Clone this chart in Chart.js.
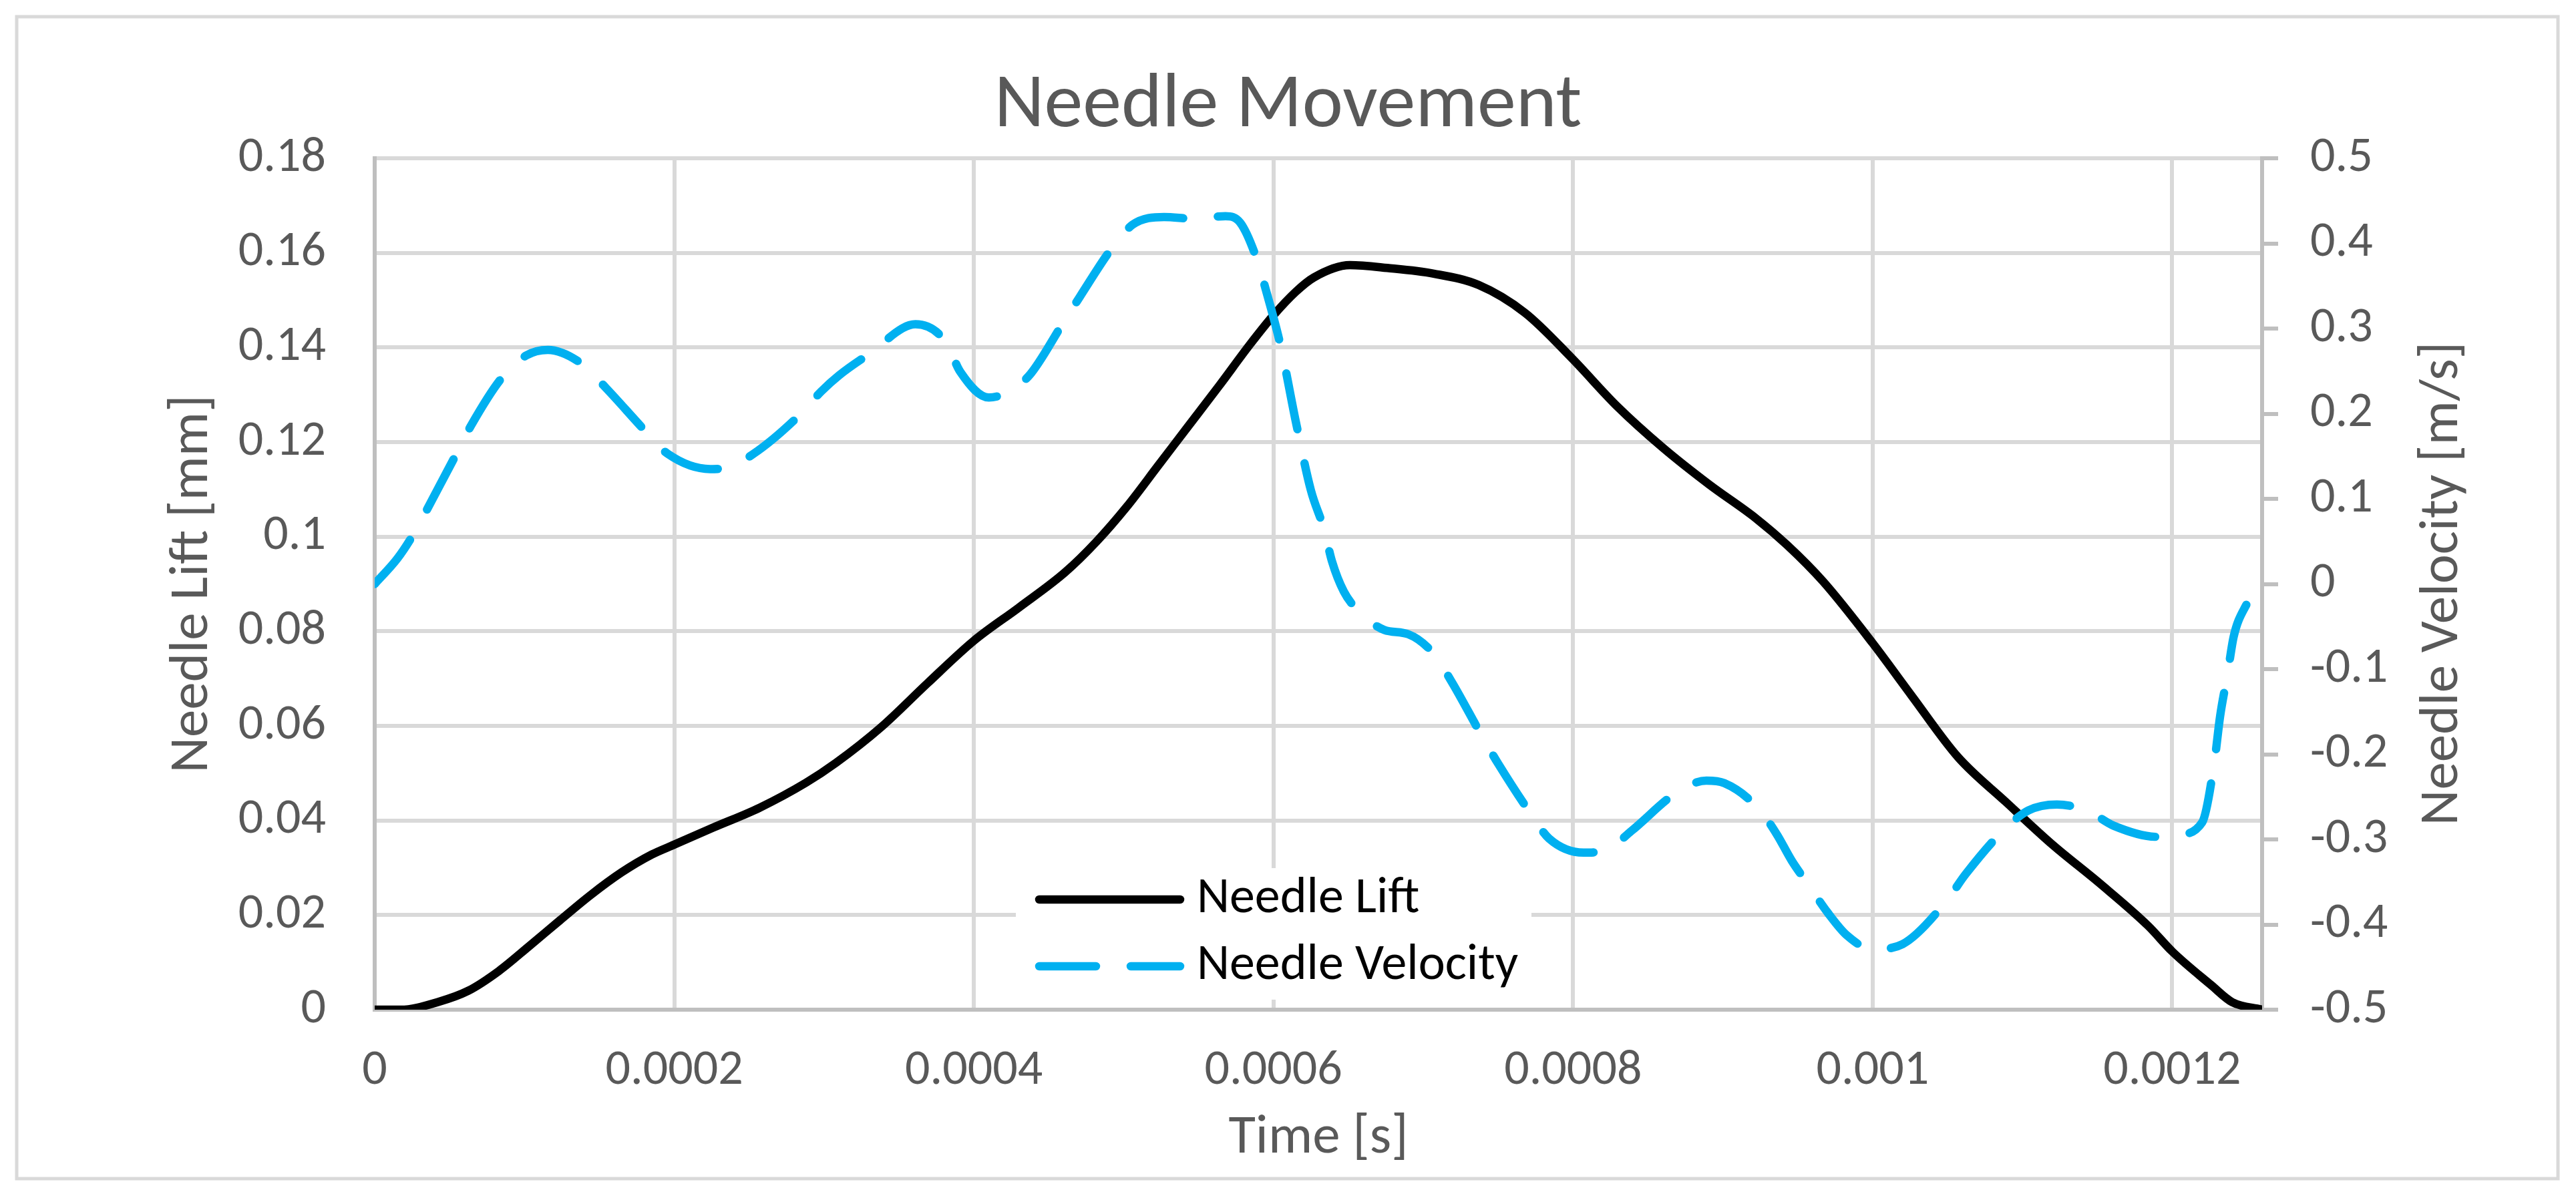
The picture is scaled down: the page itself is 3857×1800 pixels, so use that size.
<!DOCTYPE html>
<html>
<head>
<meta charset="utf-8">
<script src="https://cdn.jsdelivr.net/npm/chart.js@4/dist/chart.umd.min.js"></script>
<style>
html,body{margin:0;padding:0;background:#ffffff;}
canvas{display:block;}
</style>
</head>
<body>
<canvas id="c" width="3857" height="1800"></canvas>
<script>
// ---------------- data ----------------
const chartTitle = 'Needle Movement';
const xTitle = 'Time [s]';
const yLeftTitle = 'Needle Lift [mm]';
const yRightTitle = 'Needle Velocity [m/s]';
const seriesNames = ['Needle Lift', 'Needle Velocity'];

const liftTime = [0, 0.0000174, 0.000042, 0.0000625, 0.000083, 0.0001034, 0.0001237, 0.000144, 0.0001647, 0.000185,
  0.0002, 0.000226, 0.000257, 0.000288, 0.000308, 0.000338, 0.000369, 0.0004, 0.00043, 0.000461,
  0.000482, 0.000502, 0.000523, 0.000543, 0.000564, 0.000584, 0.0006, 0.000615, 0.000627, 0.000651,
  0.000676, 0.000707, 0.000737, 0.000768, 0.000799, 0.000829, 0.00086, 0.000891, 0.000922, 0.000943,
  0.000967, 0.001, 0.001026, 0.001057, 0.001089, 0.00112, 0.001152, 0.001184, 0.0012, 0.001226,
  0.00124, 0.00126];
const liftValues = [0, 0, 0.0016, 0.004, 0.0082, 0.0135, 0.0189, 0.0242, 0.029, 0.0328,
  0.0349, 0.0385, 0.0427, 0.048, 0.0522, 0.0597, 0.069, 0.078, 0.085, 0.0925,
  0.099, 0.1063, 0.115, 0.1233, 0.132, 0.1405, 0.1468, 0.1518, 0.1548, 0.1574,
  0.1568, 0.1556, 0.1532, 0.1473, 0.1378, 0.1277, 0.1188, 0.111, 0.1039, 0.0982,
  0.0905, 0.0775, 0.0664, 0.0534, 0.0439, 0.0349, 0.0266, 0.0177, 0.0123, 0.0052,
  0.0016, 0];

const velTime = [0, 0.0000152, 0.0000254, 0.0000357, 0.000054, 0.0000643, 0.0000848, 0.0001013, 0.0001156, 0.000138,
  0.0001545, 0.000181, 0.0001955, 0.000224, 0.000234, 0.000253, 0.000284, 0.000298, 0.00031, 0.00033,
  0.000361, 0.000381, 0.000391, 0.00041, 0.000421, 0.000437, 0.000459, 0.000471, 0.000492, 0.000506,
  0.000527, 0.000547, 0.000568, 0.000578, 0.000589, 0.000595, 0.000605, 0.000615, 0.000625, 0.000634,
  0.000639, 0.000647, 0.000657, 0.000674, 0.00069, 0.000707, 0.000719, 0.000739, 0.00075, 0.000772,
  0.000784, 0.000807, 0.000823, 0.000839, 0.00087, 0.000889, 0.000901, 0.000924, 0.000936, 0.000946,
  0.000957, 0.00097, 0.000983, 0.001, 0.00102, 0.001049, 0.001062, 0.001087, 0.001104, 0.001123,
  0.001144, 0.001161, 0.00119, 0.001203, 0.00122, 0.001228, 0.001232, 0.001237, 0.001241, 0.001249,
  0.00126];
const velValues = [0, 0.03, 0.057, 0.09, 0.151, 0.186, 0.242, 0.2685, 0.275, 0.259,
  0.23, 0.179, 0.153, 0.135, 0.136, 0.153, 0.199, 0.226, 0.245, 0.27,
  0.305, 0.285, 0.249, 0.219, 0.224, 0.245, 0.305, 0.338, 0.394, 0.422,
  0.431, 0.429, 0.432, 0.424, 0.381, 0.345, 0.278, 0.19, 0.11, 0.063,
  0.027, -0.009, -0.032, -0.054, -0.059, -0.082, -0.115, -0.178, -0.211, -0.2705,
  -0.299, -0.3155, -0.312, -0.29, -0.244, -0.231, -0.234, -0.264, -0.294, -0.325,
  -0.353, -0.386, -0.413, -0.429, -0.423, -0.373, -0.341, -0.29, -0.266, -0.259,
  -0.267, -0.284, -0.297, -0.295, -0.28, -0.211, -0.155, -0.105, -0.062, -0.026,
  0];

const xTicks = [0, 0.0002, 0.0004, 0.0006, 0.0008, 0.001, 0.0012];
const xTickLabels = ['0', '0.0002', '0.0004', '0.0006', '0.0008', '0.001', '0.0012'];
const yLeftTicks = [0, 0.02, 0.04, 0.06, 0.08, 0.1, 0.12, 0.14, 0.16, 0.18];
const yLeftTickLabels = ['0', '0.02', '0.04', '0.06', '0.08', '0.1', '0.12', '0.14', '0.16', '0.18'];
const yRightTicks = [-0.5, -0.4, -0.3, -0.2, -0.1, 0, 0.1, 0.2, 0.3, 0.4, 0.5];
const yRightTickLabels = ['-0.5', '-0.4', '-0.3', '-0.2', '-0.1', '0', '0.1', '0.2', '0.3', '0.4', '0.5'];

// ---------------- style ----------------
const FONT = "Carlito, 'Liberation Sans Narrow', 'Arial Narrow', 'Liberation Sans', sans-serif";
const GRID = '#D9D9D9';
const AXIS = '#BFBFBF';
const TEXT = '#595959';
const TRANSPARENT = 'rgba(0,0,0,0)';
const W = 3857, H = 1800;
const PLOT_LEFT = 561, PLOT_RIGHT = 3387, PLOT_BOTTOM = 1512;

const framePlugin = {
  id: 'frame',
  afterDraw(chart) {
    const ctx = chart.ctx;
    ctx.save();
    ctx.strokeStyle = GRID;
    ctx.lineWidth = 5;
    ctx.strokeRect(25, 25, 3805, 1740);
    ctx.restore();
  }
};

const rightTitlePlugin = {
  id: 'rightTitle',
  afterDraw(chart) {
    const ctx = chart.ctx;
    ctx.save();
    ctx.translate(3658, 874);
    ctx.rotate(-Math.PI / 2);
    ctx.fillStyle = TEXT;
    ctx.font = "83px " + FONT;
    ctx.textAlign = 'center';
    ctx.textBaseline = 'middle';
    ctx.fillText(yRightTitle, 0, 0);
    ctx.restore();
  }
};

const legendPlugin = {
  id: 'insideLegend',
  afterDraw(chart) {
    const ctx = chart.ctx;
    const box = {x: 1521, y: 1300, w: 772, h: 197};
    ctx.save();
    ctx.fillStyle = '#ffffff';
    ctx.fillRect(box.x, box.y, box.w, box.h);
    const rows = [1347, 1447];
    chart.data.datasets.forEach((ds, i) => {
      const y = rows[i];
      ctx.beginPath();
      ctx.strokeStyle = ds.borderColor;
      ctx.lineWidth = ds.borderWidth;
      ctx.lineCap = 'round';
      ctx.setLineDash(ds.borderDash || []);
      ctx.moveTo(1556, y);
      ctx.lineTo(1767, y);
      ctx.stroke();
      ctx.setLineDash([]);
      ctx.fillStyle = '#000000';
      ctx.font = "76px " + FONT;
      ctx.textAlign = 'left';
      ctx.textBaseline = 'middle';
      ctx.fillText(ds.label, 1792, y);
    });
    ctx.restore();
  }
};

const ctx = document.getElementById('c').getContext('2d');
new Chart(ctx, {
  type: 'line',
  data: {
    datasets: [
      {
        label: seriesNames[0],
        data: liftTime.map((t, i) => ({x: t, y: liftValues[i]})),
        yAxisID: 'y',
        borderColor: '#000000',
        borderWidth: 12.5,
        borderCapStyle: 'round',
        borderJoinStyle: 'round',
        pointRadius: 0,
        cubicInterpolationMode: 'monotone',
        fill: false,
        order: 1
      },
      {
        label: seriesNames[1],
        data: velTime.map((t, i) => ({x: t, y: velValues[i]})),
        yAxisID: 'y1',
        borderColor: '#00B0F0',
        borderWidth: 12.5,
        borderDash: [85, 52],
        borderCapStyle: 'round',
        borderJoinStyle: 'round',
        pointRadius: 0,
        cubicInterpolationMode: 'monotone',
        fill: false,
        order: 0
      }
    ]
  },
  options: {
    responsive: false,
    animation: false,
    devicePixelRatio: 1,
    layout: {padding: 0},
    plugins: {
      legend: {display: false},
      tooltip: {enabled: false},
      title: {
        display: true,
        text: chartTitle,
        color: TEXT,
        font: {family: FONT, size: 116, weight: 'normal', lineHeight: 1.2},
        padding: {top: 90, bottom: 7.8}
      }
    },
    scales: {
      x: {
        type: 'linear',
        min: 0,
        max: 0.00126,
        afterBuildTicks: s => { s.ticks = xTicks.map(v => ({value: v})); },
        afterFit: s => { s.height = H - PLOT_BOTTOM; },
        ticks: {
          callback: v => xTickLabels[xTicks.indexOf(v)],
          color: TEXT,
          font: {family: FONT, size: 74, lineHeight: 1.2},
          padding: 48,
          maxRotation: 0,
          autoSkip: false
        },
        grid: {
          color: c => (c.tick && c.tick.value === 0) ? TRANSPARENT : GRID,
          lineWidth: 6,
          drawTicks: false
        },
        border: {display: true, color: AXIS, width: 6},
        title: {
          display: true,
          text: xTitle,
          color: TEXT,
          font: {family: FONT, size: 83, lineHeight: 1.2},
          padding: {top: 0, bottom: 45}
        }
      },
      y: {
        position: 'left',
        min: 0,
        max: 0.18,
        afterBuildTicks: s => { s.ticks = yLeftTicks.map(v => ({value: v})); },
        afterFit: s => { s.width = PLOT_LEFT; },
        ticks: {
          callback: v => yLeftTickLabels[yLeftTicks.indexOf(v)],
          color: TEXT,
          font: {family: FONT, size: 74, lineHeight: 1.2},
          padding: 73
        },
        grid: {
          color: c => (c.tick && c.tick.value === 0) ? TRANSPARENT : GRID,
          lineWidth: 6,
          drawTicks: false
        },
        border: {display: true, color: AXIS, width: 6},
        title: {
          display: true,
          text: yLeftTitle,
          color: TEXT,
          font: {family: FONT, size: 83, lineHeight: 1.2},
          padding: {top: 239, bottom: 0}
        }
      },
      y1: {
        position: 'right',
        min: -0.5,
        max: 0.5,
        afterBuildTicks: s => { s.ticks = yRightTicks.map(v => ({value: v})); },
        afterFit: s => { s.width = W - PLOT_RIGHT; },
        ticks: {
          callback: v => yRightTickLabels[yRightTicks.indexOf(v)],
          color: TEXT,
          font: {family: FONT, size: 74, lineHeight: 1.2},
          padding: 48
        },
        grid: {
          drawOnChartArea: false,
          drawTicks: true,
          tickLength: 24,
          color: AXIS,
          lineWidth: 6
        },
        border: {display: true, color: AXIS, width: 6},
        title: {display: false}
      }
    }
  },
  plugins: [framePlugin, legendPlugin, rightTitlePlugin]
});
</script>
</body>
</html>
